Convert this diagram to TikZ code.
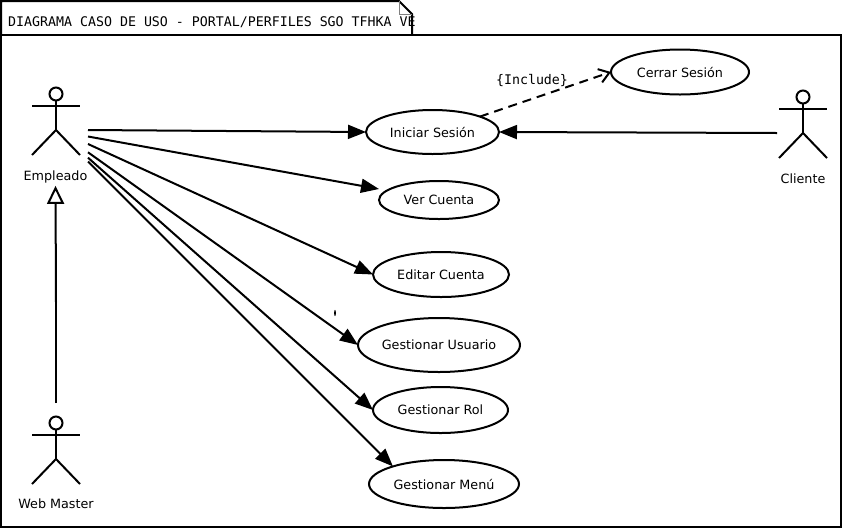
\documentclass[tikz,border=0pt]{standalone}
\usepackage{fontspec}
\setmainfont{DejaVu Sans}
\setmonofont{DejaVu Sans Mono}
\usetikzlibrary{shapes.geometric,arrows.meta}
\tikzset{
  uc/.style={draw=black,ellipse,line width=2pt,inner sep=0pt,outer sep=0pt,fill=white,font=\fontsize{12.75}{14}\selectfont},
  lab/.style={inner sep=0pt,font=\fontsize{12.75}{14}\selectfont},
  mono/.style={inner sep=0pt,font=\ttfamily\fontsize{13.27}{15}\selectfont},
  assoc/.style={line width=2pt,-{Triangle[length=18pt,width=14pt]}},
  stick/.style={line width=2pt},
}
\newcommand{\actor}[2]{%
  \draw[stick] (#1,#2) circle (6.5);
  \draw[stick] (#1,#2+6.5) -- (#1,#2+36);
  \draw[stick] (#1-24,#2+11.5) -- (#1+24,#2+11.5);
  \draw[stick] (#1-24,#2+61) -- (#1,#2+36) -- (#1+24,#2+61);
}
\begin{document}
\begin{tikzpicture}[x=1pt,y=-1pt]
\useasboundingbox (0,0) rectangle (842,528);
\draw[line width=2pt] (1,35) rectangle (841,527);
\draw[line width=2pt] (1,35) -- (1,1) -- (399,1) -- (412,14) -- (412,35);
\draw[line width=0.8pt,gray] (399,1) -- (399,14) -- (412,14);
\node[mono,anchor=base west] (title) at (8,26) {DIAGRAMA CASO DE USO - PORTAL/PERFILES SGO TFHKA VE};

\actor{56}{94}
\actor{803}{97}
\actor{56}{423}
\node[lab] (empleado) at (55.5,176.5) {Empleado};
\node[lab] (cliente) at (803,179) {Cliente};
\node[lab] (webmaster) at (56,504) {Web Master};

\node[uc,minimum width=133pt,minimum height=44pt] (iniciar) at (432.5,132) {Iniciar Sesión};
\node[uc,minimum width=138pt,minimum height=45pt] (cerrar) at (680,72) {Cerrar Sesión};
\node[uc,minimum width=120pt,minimum height=38pt] (ver) at (439,200) {Ver Cuenta};
\node[uc,minimum width=136pt,minimum height=45pt] (editar) at (441,274.5) {Editar Cuenta};
\node[uc,minimum width=162pt,minimum height=54pt] (usuario) at (439,345) {Gestionar Usuario};
\node[uc,minimum width=135pt,minimum height=46pt] (rol) at (440.5,410) {Gestionar Rol};
\node[uc,minimum width=150pt,minimum height=48pt] (menu) at (444,484) {Gestionar Menú};

\coordinate (e1) at (88,130);
\coordinate (e2) at (88,136.5);
\coordinate (e3) at (88,144);
\coordinate (e4) at (88,152.3);
\coordinate (e5) at (88,157.7);
\coordinate (e6) at (88,161.5);
\coordinate (c1) at (777,133);
\coordinate (w1) at (56,403);
\coordinate (w2) at (56,302);
\draw[assoc] (e1) -- (iniciar.west);
\draw[assoc] ([xshift=0pt]e2) -- ([yshift=11pt]ver.west);
\draw[assoc] (e3) -- (editar.west);
\draw[assoc] (e4) -- (usuario.west);
\draw[assoc] (e5) -- (rol.west);
\draw[assoc] (e6) -- (menu.161);
\draw[assoc] (c1) -- (iniciar.east);
\draw[line width=2pt,dash pattern=on 9pt off 6pt,-{Straight Barb[length=10pt,width=14pt,line width=2pt]}] (iniciar.18.6) -- (cerrar.west);
\node[mono,inner sep=1pt] (inc) at (532,81) {\{Include\}};
\draw[line width=1.6pt] (w1) -- (w2);
\draw[line width=2pt,-{Triangle[open,length=18pt,width=17pt,line width=2pt,fill=white]}] (w2) -- ([yshift=-3pt]empleado.south);
\fill (335,313) ellipse (0.9 and 3.2);
\end{tikzpicture}
\end{document}
